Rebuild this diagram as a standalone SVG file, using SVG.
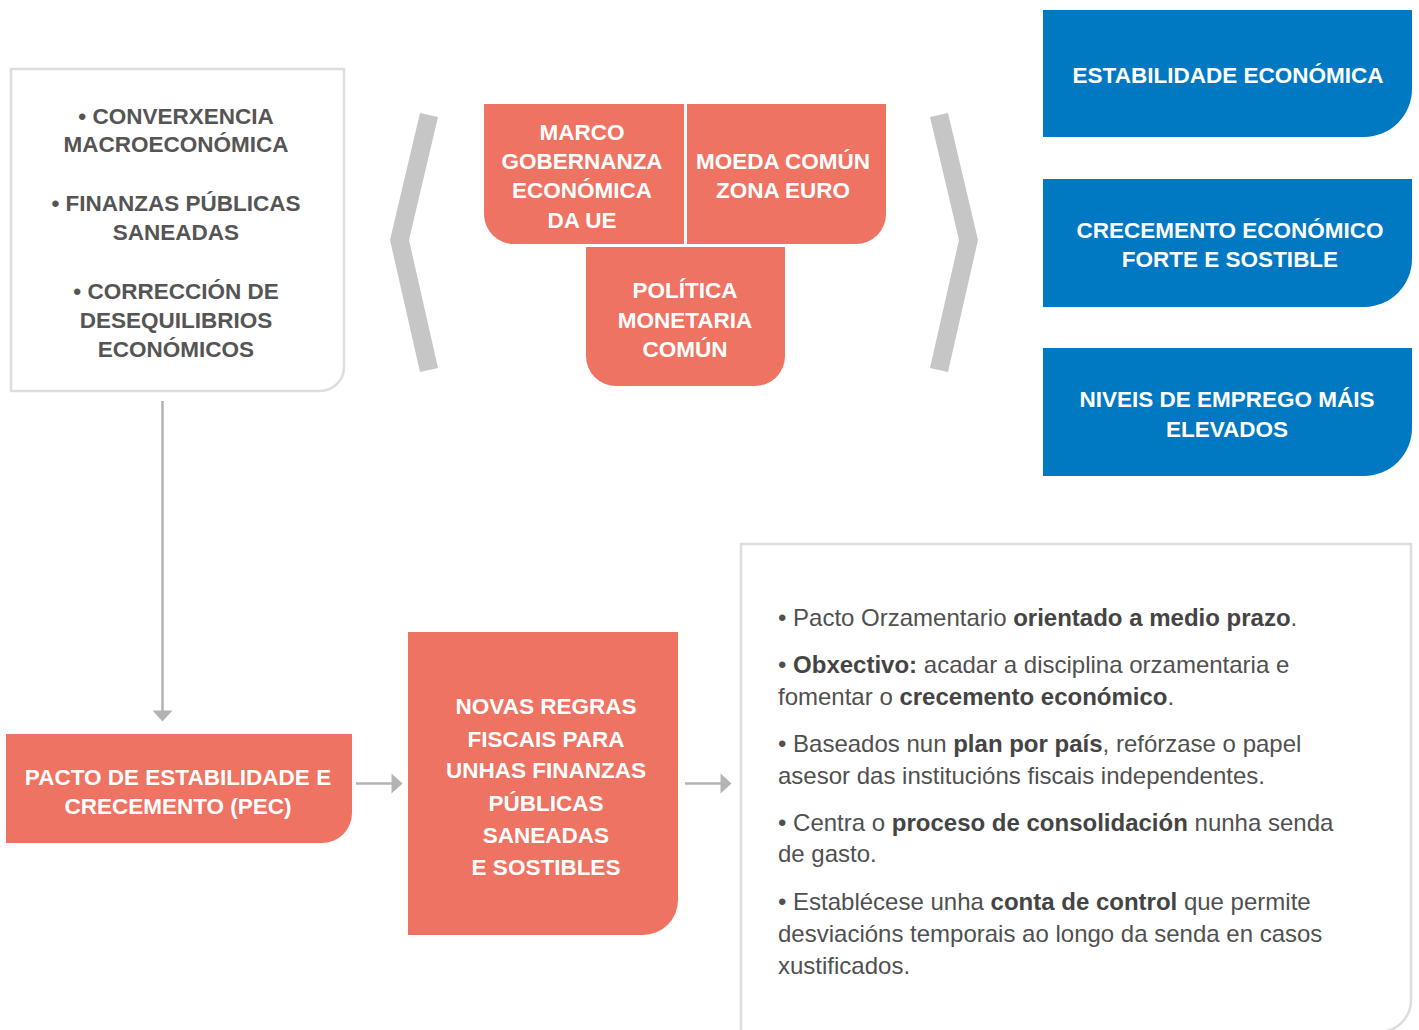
<svg xmlns="http://www.w3.org/2000/svg" width="1419" height="1030" viewBox="0 0 1419 1030">
<defs>
<style>
.cap{font-family:"Liberation Sans",Arial,sans-serif;font-weight:bold;font-size:22.5px;text-anchor:middle}
.w{fill:#ffffff}
.g{fill:#555555}
.coral{fill:#EE7362}
.blue{fill:#0079C2}
.frame{fill:#ffffff;stroke:#dddddd;stroke-width:2.5}
.brk{fill:#C6C6C6}
.body{font-family:"Liberation Sans",Arial,sans-serif;font-size:24px;fill:#505050}
.body tspan.b{font-weight:bold;fill:#444444}
.conn{stroke:#B3B3B3;stroke-width:2.5;fill:none}
.head{fill:#B3B3B3}
</style>
</defs>
<rect width="1419" height="1030" fill="#ffffff"/>

<g id="goals">
<path class="frame" d="M11,69 H344 V367 A24,24 0 0 1 320,391 H11 Z"/>
<text class="cap g" x="176" y="124">• CONVERXENCIA</text>
<text class="cap g" x="176" y="152">MACROECONÓMICA</text>
<text class="cap g" x="176" y="211">• FINANZAS PÚBLICAS</text>
<text class="cap g" x="176" y="240">SANEADAS</text>
<text class="cap g" x="176" y="299">• CORRECCIÓN DE</text>
<text class="cap g" x="176" y="328">DESEQUILIBRIOS</text>
<text class="cap g" x="176" y="357">ECONÓMICOS</text>
</g>

<g id="bracket-left">
<polygon class="brk" points="420,113 438,117 409,240 438,368 420,372 390,240"/>
</g>
<g id="bracket-right">
<polygon class="brk" points="948,113 930,117 959,240 930,368 948,372 978,240"/>
</g>

<g id="marco">
<path class="coral" d="M484,104 H684 V244 H514 A30,30 0 0 1 484,214 Z"/>
<text class="cap w" x="582" y="140">MARCO</text>
<text class="cap w" x="582" y="169">GOBERNANZA</text>
<text class="cap w" x="582" y="198">ECONÓMICA</text>
<text class="cap w" x="582" y="228">DA UE</text>
</g>

<g id="moeda">
<path class="coral" d="M687,104 H886 V214 A30,30 0 0 1 856,244 H687 Z"/>
<text class="cap w" x="783" y="169">MOEDA COMÚN</text>
<text class="cap w" x="783" y="198">ZONA EURO</text>
</g>

<g id="politica">
<path class="coral" d="M586,247 H785 V356 A30,30 0 0 1 755,386 H616 A30,30 0 0 1 586,356 Z"/>
<text class="cap w" x="685" y="298">POLÍTICA</text>
<text class="cap w" x="685" y="328">MONETARIA</text>
<text class="cap w" x="685" y="357">COMÚN</text>
</g>

<g id="estabilidade">
<path class="blue" d="M1043,10 H1412 V89 A48,48 0 0 1 1364,137 H1043 Z"/>
<text class="cap w" x="1228" y="83">ESTABILIDADE ECONÓMICA</text>
</g>

<g id="crecemento">
<path class="blue" d="M1043,179 H1412 V259 A48,48 0 0 1 1364,307 H1043 Z"/>
<text class="cap w" x="1230" y="238">CRECEMENTO ECONÓMICO</text>
<text class="cap w" x="1230" y="267">FORTE E SOSTIBLE</text>
</g>

<g id="emprego">
<path class="blue" d="M1043,348 H1412 V428 A48,48 0 0 1 1364,476 H1043 Z"/>
<text class="cap w" x="1227" y="407">NIVEIS DE EMPREGO MÁIS</text>
<text class="cap w" x="1227" y="437">ELEVADOS</text>
</g>

<g id="pec">
<path class="coral" d="M6,734 H352 V813 A30,30 0 0 1 322,843 H6 Z"/>
<text class="cap w" x="178" y="785">PACTO DE ESTABILIDADE E</text>
<text class="cap w" x="178" y="814">CRECEMENTO (PEC)</text>
</g>

<g id="novas">
<path class="coral" d="M408,632 H678 V900 A35,35 0 0 1 643,935 H408 Z"/>
<text class="cap w" x="546" y="714">NOVAS REGRAS</text>
<text class="cap w" x="546" y="747">FISCAIS PARA</text>
<text class="cap w" x="546" y="778">UNHAS FINANZAS</text>
<text class="cap w" x="546" y="811">PÚBLICAS</text>
<text class="cap w" x="546" y="843">SANEADAS</text>
<text class="cap w" x="546" y="875">E SOSTIBLES</text>
</g>

<g id="details">
<path class="frame" d="M741,544 H1411 V1000 A32,32 0 0 1 1379,1032 H741 Z"/>
<text class="body" x="778" y="626">• Pacto Orzamentario <tspan class="b">orientado a medio prazo</tspan>.</text>
<text class="body" x="778" y="673">• <tspan class="b">Obxectivo:</tspan> acadar a disciplina orzamentaria e</text>
<text class="body" x="778" y="705">fomentar o <tspan class="b">crecemento económico</tspan>.</text>
<text class="body" x="778" y="752">• Baseados nun <tspan class="b">plan por país</tspan>, refórzase o papel</text>
<text class="body" x="778" y="784">asesor das institucións fiscais independentes.</text>
<text class="body" x="778" y="831">• Centra o <tspan class="b">proceso de consolidación</tspan> nunha senda</text>
<text class="body" x="778" y="862">de gasto.</text>
<text class="body" x="778" y="910">• Establécese unha <tspan class="b">conta de control</tspan> que permite</text>
<text class="body" x="778" y="942">desviacións temporais ao longo da senda en casos</text>
<text class="body" x="778" y="974">xustificados.</text>
</g>

<g id="connectors">
<line class="conn" x1="162.5" y1="401" x2="162.5" y2="712"/>
<polygon class="head" points="152.5,710.5 172.5,710.5 162.5,721.5"/>
<line class="conn" x1="356" y1="783.5" x2="393" y2="783.5"/>
<polygon class="head" points="391.5,773.5 391.5,793.5 402.5,783.5"/>
<line class="conn" x1="685" y1="783.5" x2="722" y2="783.5"/>
<polygon class="head" points="720.5,773.5 720.5,793.5 731.5,783.5"/>
</g>
</svg>
